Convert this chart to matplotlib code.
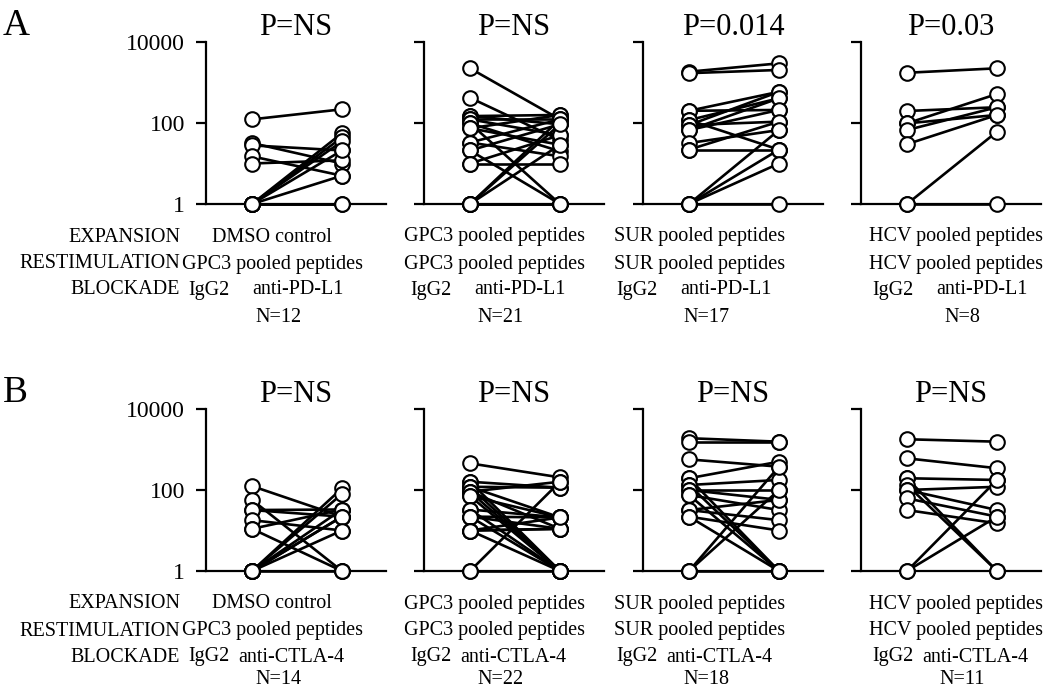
import matplotlib
matplotlib.use("Agg")
import matplotlib.pyplot as plt
from matplotlib.ticker import FixedLocator, NullLocator

plt.rcParams['font.family'] = ['Liberation Serif', 'DejaVu Serif']

# panel A: IgG2 vs anti-PD-L1 (paired values)
a1_igg2 = [123, 32, 28, 15, 10, 1, 1, 1, 1, 1, 1, 1]
a1_anti = [218, 10, 21, 5, 12, 56, 44, 35, 21, 5, 1, 1]
a2_igg2 = [2240, 420, 148, 148, 123, 123, 98, 98, 74, 74, 33, 33, 21, 21, 10, 10, 1, 1, 1, 1, 1]
a2_anti = [123, 38, 158, 93, 123, 50, 1, 20, 158, 29, 123, 15, 1, 93, 50, 10, 123, 93, 1, 1, 29]
a3_igg2 = [1850, 1700, 200, 200, 118, 118, 89, 89, 67, 67, 32, 22, 22, 1, 1, 1, 1]
a3_anti = [2970, 2040, 590, 210, 408, 22, 590, 108, 408, 210, 67, 22, 108, 67, 22, 10, 1]
a4_igg2 = [1740, 198, 98, 98, 67, 30, 1, 1]
a4_anti = [2240, 245, 520, 158, 245, 158, 61, 1]

# panel B: IgG2 vs anti-CTLA-4
b1_igg2 = [125, 57, 32, 32, 18, 11, 11, 1, 1, 1, 1, 1, 1, 1]
b1_anti = [22, 1, 33, 22, 10, 1, 33, 110, 80, 33, 22, 22, 10, 1]
b2_igg2 = [455, 160, 160, 120, 120, 120, 91, 91, 91, 71, 71, 33, 33, 22, 22, 22, 10, 10, 10, 10, 1, 1]
b2_anti = [205, 114, 1, 1, 21, 114, 1, 11, 160, 1, 21, 1, 21, 21, 11, 1, 11, 11, 1, 21, 160, 1]
b3_igg2 = [1900, 1560, 570, 195, 195, 133, 133, 100, 100, 75, 75, 32, 32, 22, 22, 1, 1, 1]
b3_anti = [1560, 1560, 377, 500, 1, 177, 1, 100, 57, 32, 1, 18, 57, 10, 1, 377, 100, 1]
b4_igg2 = [1790, 605, 195, 195, 133, 100, 100, 62, 32, 1, 1]
b4_anti = [1560, 345, 177, 1, 1, 120, 32, 22, 15, 177, 22]

p_values_a = ['P=NS', 'P=NS', 'P=0.014', 'P=0.03']
p_values_b = ['P=NS', 'P=NS', 'P=NS', 'P=NS']
n_a = ['N=12', 'N=21', 'N=17', 'N=8']
n_b = ['N=14', 'N=22', 'N=18', 'N=11']
expansion = ['DMSO control', 'GPC3 pooled peptides', 'SUR pooled peptides', 'HCV pooled peptides']
restimulation = ['GPC3 pooled peptides', 'GPC3 pooled peptides', 'SUR pooled peptides', 'HCV pooled peptides']
yticks = [1, 100, 10000]

W, H = 1050, 690
fig = plt.figure(figsize=(W / 100, H / 100), dpi=100)

panel_x = [206, 424, 643, 861]
text_x = [272, 494, 700, 956]


def px(x, y):
    return x / W, 1 - y / H


def draw_row(top, pairs, titles, ns, blockade, letter, n_off):
    bottom = top + 162
    fs = 14.5
    for i, (left_vals, right_vals) in enumerate(pairs):
        x0 = panel_x[i]
        ax = fig.add_axes([x0 / W, 1 - bottom / H, 180 / W, 162 / H])
        ax.set_yscale('log')
        ax.set_ylim(1, 10000)
        ax.set_xlim(1 - 46 / 90, 1 - 46 / 90 + 2)
        for l, r in zip(left_vals, right_vals):
            ax.plot([1, 2], [l, r], color='black', lw=1.9, zorder=3,
                    solid_capstyle='round', clip_on=False)
        ax.plot([1] * len(left_vals), left_vals, 'o', ms=10.5, mfc='white',
                mec='black', mew=1.5, zorder=5, clip_on=False)
        ax.plot([2] * len(right_vals), right_vals, 'o', ms=10.5, mfc='white',
                mec='black', mew=1.5, zorder=5, clip_on=False)
        for s in ['top', 'right']:
            ax.spines[s].set_visible(False)
        for s in ['left', 'bottom']:
            ax.spines[s].set_linewidth(1.6)
            ax.spines[s].set_zorder(1)
        ax.set_xticks([])
        ax.yaxis.set_major_locator(FixedLocator(yticks))
        ax.yaxis.set_minor_locator(NullLocator())
        ax.tick_params(axis='y', length=7, width=1.6, pad=8, labelsize=17)
        if i == 0:
            ax.set_yticklabels([str(t) for t in yticks])
        else:
            ax.set_yticklabels([])
        ax.set_title(titles[i], fontsize=22, pad=5)

        c = text_x[i]
        fig.text(*px(c, bottom + 33), expansion[i], ha='center', va='center', fontsize=fs)
        fig.text(*px(c, bottom + 60), restimulation[i], ha='center', va='center', fontsize=fs)
        fig.text(*px(c - 84, bottom + 86), 'IgG2', ha='left', va='center', fontsize=fs)
        fig.text(*px(c + 72, bottom + 86), blockade, ha='right', va='center', fontsize=fs)
        fig.text(*px(c + 6, bottom + n_off), ns[i], ha='center', va='center', fontsize=fs)

    for k, lab in enumerate(['EXPANSION', 'RESTIMULATION', 'BLOCKADE']):
        y = [33, 60, 86][k]
        fig.text(*px(180, bottom + y), lab, ha='right', va='center', fontsize=fs)
    fig.text(*px(3, top - 7), letter, ha='left', va='baseline', fontsize=27)


draw_row(42, [(a1_igg2, a1_anti), (a2_igg2, a2_anti), (a3_igg2, a3_anti), (a4_igg2, a4_anti)],
         p_values_a, n_a, 'anti-PD-L1', 'A', 113)
draw_row(409, [(b1_igg2, b1_anti), (b2_igg2, b2_anti), (b3_igg2, b3_anti), (b4_igg2, b4_anti)],
         p_values_b, n_b, 'anti-CTLA-4', 'B', 109)

fig.savefig('out.png', dpi=100, facecolor='white')
